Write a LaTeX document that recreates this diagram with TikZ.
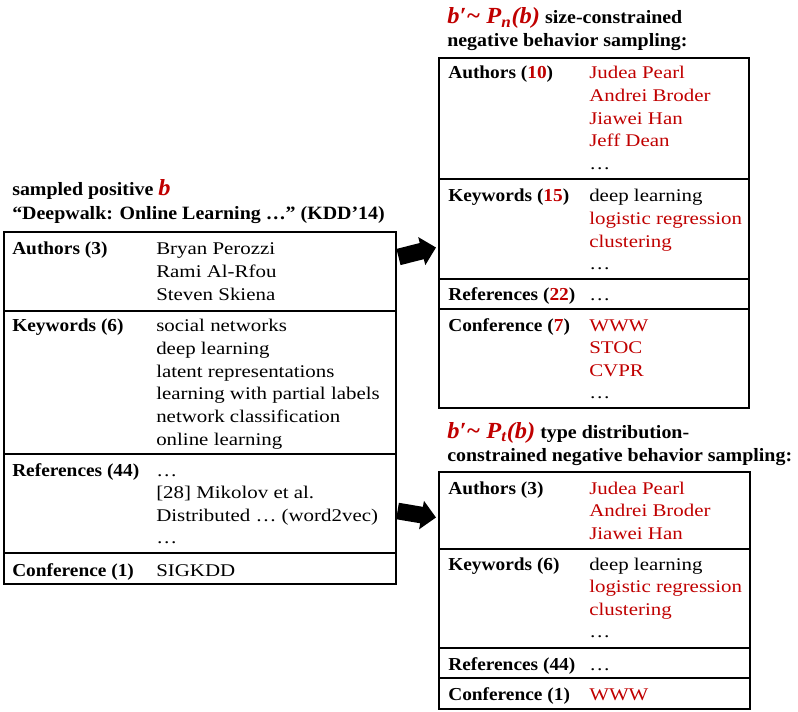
\documentclass[tikz,border=0pt]{standalone}
\usepackage{fontspec}
\setmainfont{Liberation Serif}[FakeStretch=1.17]
\newfontfamily\boldserif{Liberation Serif}[FakeStretch=1.06]
\usetikzlibrary{arrows.meta}
\definecolor{negred}{RGB}{192,0,0}

\tikzset{
  lab/.style={anchor=base west, inner sep=0pt, font=\boldserif\fontsize{13.7}{15}\selectfont\bfseries},
  val/.style={anchor=base west, inner sep=0pt, font=\fontsize{13.4}{15}\selectfont},
  neg/.style={val, text=negred},
  head/.style={anchor=base west, inner sep=0pt, font=\boldserif\fontsize{14.1}{16}\selectfont\bfseries},
  frame/.style={draw, line width=1pt},
  blockarrow/.style={line width=12.5pt, -{Triangle[length=11pt,width=21pt]}}
}
\newcommand{\bsym}[1]{{\boldserif\fontsize{17.3}{18}\selectfont\bfseries\itshape\color{negred}#1}}

\begin{document}
\begin{tikzpicture}[x=0.75pt,y=-0.75pt]
\useasboundingbox (0,0) rectangle (798,712);

% positive behavior
\node[head] (poshead1) at (12,196) {sampled positive \bsym{b}};
\node[head] (poshead2) at (12,220) {“Deepwalk: Online Learning …” (KDD’14)};
\draw[frame] (4,232) rectangle (396,584);
\draw[frame] (4,311) -- (396,311);
\draw[frame] (4,454) -- (396,454);
\draw[frame] (4,553) -- (396,553);

\node[lab] (posauth) at (12,255) {Authors (3)};
\node[val] (pa1) at (156,255)   {Bryan Perozzi};
\node[val] (pa2) at (156,277.6) {Rami Al-Rfou};
\node[val] (pa3) at (156,300.2) {Steven Skiena};

\node[lab] (poskey) at (12,332) {Keywords (6)};
\node[val] (pk1) at (156,332)   {social networks};
\node[val] (pk2) at (156,354.6) {deep learning};
\node[val] (pk3) at (156,377.2) {latent representations};
\node[val] (pk4) at (156,399.8) {learning with partial labels};
\node[val] (pk5) at (156,422.4) {network classification};
\node[val] (pk6) at (156,445)   {online learning};

\node[lab] (posref) at (12,476) {References (44)};
\node[val] (pr1) at (156,476)   {…};
\node[val] (pr2) at (156,498.6) {[28] Mikolov et al.};
\node[val] (pr3) at (156,521.2) {Distributed … (word2vec)};
\node[val] (pr4) at (156,543.8) {…};

\node[lab] (posconf) at (12,576) {Conference (1)};
\node[val] (pc1) at (156,576) {SIGKDD};

% size-constrained negative sampling
\node[head] (nshead1) at (447,24) {\bsym{b′\textasciitilde\ P\textsubscript{n}(b)} size-constrained};
\node[head] (nshead2) at (447,47) {negative behavior sampling:};
\draw[frame] (439,58) rectangle (749,408);
\draw[frame] (439,179) -- (749,179);
\draw[frame] (439,279) -- (749,279);
\draw[frame] (439,309) -- (749,309);

\node[lab] (nsauth) at (448,79) {Authors (\textcolor{negred}{10})};
\node[neg] (na1) at (589,79)    {Judea Pearl};
\node[neg] (na2) at (589,101.6) {Andrei Broder};
\node[neg] (na3) at (589,124.2) {Jiawei Han};
\node[neg] (na4) at (589,146.8) {Jeff Dean};
\node[val] (na5) at (589,169.4) {…};

\node[lab] (nskey) at (448,202) {Keywords (\textcolor{negred}{15})};
\node[val] (nk1) at (589,202)   {deep learning};
\node[neg] (nk2) at (589,224.6) {logistic regression};
\node[neg] (nk3) at (589,247.2) {clustering};
\node[val] (nk4) at (589,269.8) {…};

\node[lab] (nsref) at (448,301) {References (\textcolor{negred}{22})};
\node[val] (nr1) at (589,301) {…};

\node[lab] (nsconf) at (448,331) {Conference (\textcolor{negred}{7})};
\node[neg] (nc1) at (589,331)   {WWW};
\node[neg] (nc2) at (589,353.6) {STOC};
\node[neg] (nc3) at (589,376.2) {CVPR};
\node[val] (nc4) at (589,398.8) {…};

% type distribution-constrained negative sampling
\node[head] (nthead1) at (447,438) {\bsym{b′\textasciitilde\ P\textsubscript{t}(b)} type distribution-};
\node[head] (nthead2) at (447,461) {constrained negative behavior sampling:};
\draw[frame] (439,472) rectangle (750,709);
\draw[frame] (439,549) -- (750,549);
\draw[frame] (439,648) -- (750,648);
\draw[frame] (439,678) -- (750,678);

\node[lab] (ntauth) at (448,494) {Authors (3)};
\node[neg] (ta1) at (589,494)   {Judea Pearl};
\node[neg] (ta2) at (589,516.6) {Andrei Broder};
\node[neg] (ta3) at (589,539.2) {Jiawei Han};

\node[lab] (ntkey) at (448,570) {Keywords (6)};
\node[val] (tk1) at (589,570)   {deep learning};
\node[neg] (tk2) at (589,592.6) {logistic regression};
\node[neg] (tk3) at (589,615.2) {clustering};
\node[val] (tk4) at (589,637.8) {…};

\node[lab] (ntref) at (448,670) {References (44)};
\node[val] (tr1) at (589,670) {…};

\node[lab] (ntconf) at (448,700) {Conference (1)};
\node[neg] (tc1) at (589,700) {WWW};

% arrows
\coordinate (up1) at (398.5,257);
\coordinate (up2) at (436,247.5);
\coordinate (dn1) at (397.5,511);
\coordinate (dn2) at (436,517.5);
\draw[blockarrow] (up1) -- (up2);
\draw[blockarrow] (dn1) -- (dn2);

\end{tikzpicture}
\end{document}
